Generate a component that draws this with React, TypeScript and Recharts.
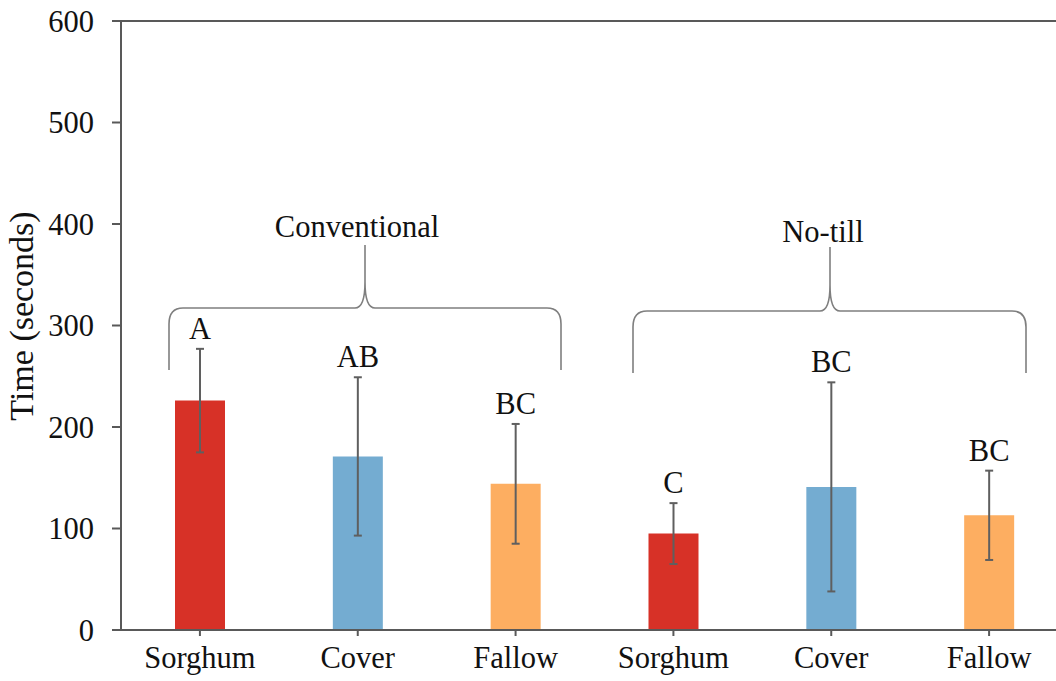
import React from "react";
import {
  BarChart,
  Bar,
  XAxis,
  YAxis,
  Cell,
  ErrorBar,
  LabelList,
  ReferenceLine,
  Customized
} from "recharts";

// values
const categories = ["Sorghum", "Cover", "Fallow", "Sorghum", "Cover", "Fallow"];
const means = [226, 171, 144, 95, 141, 113];
const errors = [51, 78, 59, 30, 103, 44];
const letters = ["A", "AB", "BC", "C", "BC", "BC"];
const yTicks = [0, 100, 200, 300, 400, 500, 600];

const COLORS = ["#d73127", "#74acd1", "#fdae61", "#d73127", "#74acd1", "#fdae61"];

const FONT = "'Liberation Serif', 'Times New Roman', serif";
const AXIS = "#595959";
const FS = 30.5;

const data = categories.map((name, i) => ({
  id: i,
  name,
  mean: means[i],
  err: errors[i],
  letter: letters[i]
}));

const LetterLabel = (props: any) => {
  const { x, y, width, height, index } = props;
  const pxPerUnit = height / means[index];
  const errTop = y - errors[index] * pxPerUnit;
  return (
    <text
      x={x + width / 2}
      y={errTop - 10}
      textAnchor="middle"
      fontFamily={FONT}
      fontSize={FS}
      fill="#111"
    >
      {letters[index]}
    </text>
  );
};

// curly brace drawn over each tillage group
const bracePath = (x1: number, x2: number, tip: number, yH: number, yEnd: number, yTip: number) =>
  `M ${x1} ${yEnd} L ${x1} ${yH + 16} Q ${x1} ${yH} ${x1 + 14} ${yH} ` +
  `L ${tip - 10} ${yH} Q ${tip} ${yH} ${tip} ${yH - 26} L ${tip} ${yTip} ` +
  `M ${tip} ${yH - 26} Q ${tip} ${yH} ${tip + 10} ${yH} ` +
  `L ${x2 - 14} ${yH} Q ${x2} ${yH} ${x2} ${yH + 16} L ${x2} ${yEnd}`;

const Annotations = () => (
  <g>
    <path d={bracePath(169, 561, 365, 308, 370, 245)} fill="none" stroke="#7f7f7f" strokeWidth={1.6} />
    <path d={bracePath(633, 1026, 830, 311, 373, 247)} fill="none" stroke="#7f7f7f" strokeWidth={1.6} />
    <text x={357} y={237} textAnchor="middle" fontFamily={FONT} fontSize={FS} fill="#111">
      Conventional
    </text>
    <text x={823} y={242} textAnchor="middle" fontFamily={FONT} fontSize={FS} fill="#111">
      No-till
    </text>
    <text
      x={0}
      y={0}
      transform="translate(33 316) rotate(-90)"
      textAnchor="middle"
      fontFamily={FONT}
      fontSize={34}
      fill="#111"
    >
      Time (seconds)
    </text>
  </g>
);

export default function App() {
  return (
    <div
      style={{
        position: "fixed",
        left: 0,
        top: 0,
        width: 1056,
        height: 681,
        overflow: "hidden",
        background: "#fff"
      }}
    >
      <BarChart
        width={1068}
        height={681}
        data={data}
        margin={{ top: 21, right: 0, left: 0, bottom: 0 }}
      >
        <XAxis
          dataKey="id"
          tickFormatter={(v: number) => categories[v]}
          height={51}
          axisLine={{ stroke: AXIS, strokeWidth: 2 }}
          tickLine={{ stroke: AXIS, strokeWidth: 2 }}
          tickSize={6}
          tickMargin={10}
          tick={{ fill: "#111", fontSize: FS, fontFamily: FONT }}
        />
        <YAxis
          width={121}
          domain={[0, 600]}
          ticks={yTicks}
          interval={0}
          axisLine={{ stroke: AXIS, strokeWidth: 2 }}
          tickLine={{ stroke: AXIS, strokeWidth: 2 }}
          tickSize={9}
          tickMargin={18}
          tick={{ fill: "#111", fontSize: FS, fontFamily: FONT }}
        />
        <ReferenceLine y={600} stroke={AXIS} strokeWidth={2} />
        <Bar dataKey="mean" barSize={50} isAnimationActive={false}>
          {data.map((d, i) => (
            <Cell key={`cell-${i}`} fill={COLORS[i]} />
          ))}
          <ErrorBar dataKey="err" width={4} stroke="#5f5f5f" strokeWidth={2} />
          <LabelList dataKey="letter" content={LetterLabel} />
        </Bar>
        <Customized component={<Annotations />} />
      </BarChart>
    </div>
  );
}
